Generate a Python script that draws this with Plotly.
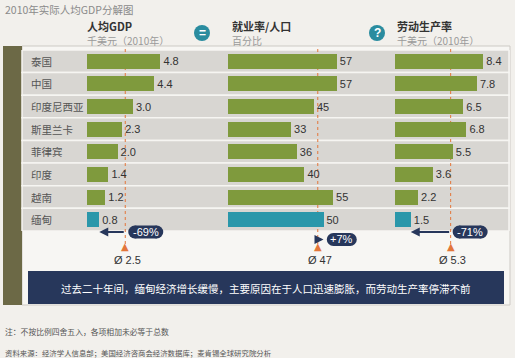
import plotly.graph_objects as go

# ---------------- data ----------------
countries = ["泰国", "中国", "印度尼西亚", "斯里兰卡", "菲律宾", "印度", "越南", "缅甸"]
gdp_per_capita = [4.8, 4.4, 3.0, 2.3, 2.0, 1.4, 1.2, 0.8]        # 千美元（2010年）
employment_ratio = [57, 57, 45, 33, 36, 40, 55, 50]               # 百分比
labor_productivity = [8.4, 7.8, 6.5, 6.8, 5.5, 3.6, 2.2, 1.5]     # 千美元（2010年）
averages = [2.5, 47, 5.3]
myanmar_gap = ["-69%", "+7%", "-71%"]
col_titles = ["人均GDP", "就业率/人口", "劳动生产率"]
col_units = ["千美元（2010年）", "百分比", "千美元（2010年）"]
title = "2010年实际人均GDP分解图"
takeaway = "过去二十年间，缅甸经济增长缓慢，主要原因在于人口迅速膨胀，而劳动生产率停滞不前"
note1 = "注：不按比例四舍五入，各项相加未必等于总数"
note2 = "资料来源：经济学人信息部；美国经济咨商会经济数据库；麦肯锡全球研究院分析"

# ---------------- style ----------------
W, H = 515, 358
FONT = "Noto Sans CJK SC, Noto Sans, sans-serif"
GREEN = "#7f9a3d"
TEAL = "#2a97aa"
NAVY = "#27375b"
ORANGE = "#e3763a"
ROW = "#d8d6d2"

def px(x):
    return x / W

def py(y):
    return 1 - y / H

series = [gdp_per_capita, employment_ratio, labor_productivity]
fmts = ["{:.1f}", "{:d}", "{:.1f}"]
axes = ["x", "x2", "x3"]
# axis pixel domains and pixel-per-unit scales
doms = [(87, 215, 15.3), (228, 385, 1.91), (395, 508, 10.5)]

ys = list(range(len(countries)))
fig = go.Figure()
for vals, fmt, ax in zip(series, fmts, axes):
    colors = [TEAL if c == "缅甸" else GREEN for c in countries]
    fig.add_trace(go.Bar(
        x=vals, y=ys, orientation="h", xaxis=ax, yaxis="y",
        marker=dict(color=colors, line=dict(width=0)), width=0.66,
        text=[fmt.format(v) for v in vals], textposition="outside",
        textfont=dict(size=11, color="#333", family="Arial, Liberation Sans"),
        constraintext="none", cliponaxis=False, hoverinfo="skip", showlegend=False,
    ))

layout_axes = {}
for i, (a, b, s) in enumerate(doms):
    key = "xaxis" if i == 0 else f"xaxis{i+1}"
    layout_axes[key] = dict(domain=[px(a), px(b)], range=[0, (b - a) / s],
                            visible=False, fixedrange=True, anchor="y")

shapes = []
# panel and left bar
shapes.append(dict(type="rect", xref="paper", yref="paper", x0=px(22), x1=px(510), y0=py(305), y1=py(46),
                   fillcolor="#f7f6f3", line=dict(color="#cdcac5", width=1), layer="below"))
shapes.append(dict(type="rect", xref="paper", yref="paper", x0=px(3), x1=px(22), y0=py(305), y1=py(46),
                   fillcolor="#6c6946", line=dict(width=0), layer="below"))
# row bands
for i in ys:
    shapes.append(dict(type="rect", xref="paper", yref="y", x0=px(22), x1=px(509), y0=i - 0.5, y1=i + 0.5,
                       fillcolor=ROW, line=dict(color="#f6f5f2", width=1.5), layer="below"))
# average dotted lines
for avg, ax in zip(averages, axes):
    shapes.append(dict(type="line", xref=ax, yref="paper", x0=avg, x1=avg, y0=py(244), y1=py(47),
                       line=dict(color=ORANGE, width=1, dash="dot"), layer="below"))
# header icons
for cx in (202, 377):
    shapes.append(dict(type="circle", xref="paper", yref="paper", x0=px(cx - 8), x1=px(cx + 8),
                       y0=py(41), y1=py(25), fillcolor="#2a8c9f", line=dict(width=0)))
# takeaway box
shapes.append(dict(type="rect", xref="paper", yref="paper", x0=px(28), x1=px(504), y0=py(304), y1=py(271),
                   fillcolor=NAVY, line=dict(width=0)))
# pills (stadium shapes) anchored at averages
pill_offsets = [(3, 38, 232), (9, 39, 239.5), (2, 37, 232)]
for avg, ax, (o0, o1, cy) in zip(averages, axes, pill_offsets):
    r = 6.5
    shapes.append(dict(type="rect", xref=ax, xsizemode="pixel", xanchor=avg, x0=o0 + r, x1=o1 - r,
                       yref="paper", y0=py(cy + r), y1=py(cy - r), fillcolor=NAVY, line=dict(width=0)))
    for c in (o0 + r, o1 - r):
        shapes.append(dict(type="circle", xref=ax, xsizemode="pixel", xanchor=avg, x0=c - r, x1=c + r,
                           yref="paper", y0=py(cy + r), y1=py(cy - r), fillcolor=NAVY, line=dict(width=0)))

ann = []
ann.append(dict(text=title, xref="paper", yref="paper", x=px(3), y=py(9), xanchor="left", yanchor="middle",
                showarrow=False, font=dict(size=10.5, color="#8a8a8a", family=FONT)))
head_x = [85, 230, 395]
for hx, t, u in zip(head_x, col_titles, col_units):
    ann.append(dict(text=f"<b>{t}</b>", xref="paper", yref="paper", x=px(hx), y=py(26), xanchor="left",
                    yanchor="middle", showarrow=False, font=dict(size=11, color="#333", family=FONT)))
    ann.append(dict(text=u, xref="paper", yref="paper", x=px(hx), y=py(40), xanchor="left",
                    yanchor="middle", showarrow=False, font=dict(size=10, color="#9a9a9a", family=FONT)))
for cx, sym in ((202, "="), (377, "?")):
    ann.append(dict(text=f"<b>{sym}</b>", xref="paper", yref="paper", x=px(cx), y=py(33), xanchor="center",
                    yanchor="middle", showarrow=False, font=dict(size=12, color="white", family="Arial")))
for i, c in enumerate(countries):
    ann.append(dict(text=c, xref="paper", yref="y", x=px(29), y=i, xanchor="left", yanchor="middle",
                    showarrow=False, font=dict(size=10.5, color="#555", family=FONT)))
for avg, ax, gap, my, (o0, o1, cy) in zip(averages, axes, myanmar_gap, [s[-1] for s in series], pill_offsets):
    ann.append(dict(text="▲", xref=ax, yref="paper", x=avg, y=py(246), xanchor="center", yanchor="middle",
                    showarrow=False, font=dict(size=10, color=ORANGE, family="DejaVu Sans")))
    ann.append(dict(text=f"Ø {avg:g}", xref=ax, yref="paper", x=avg, y=py(260), xanchor="center",
                    yanchor="middle", showarrow=False, xshift=2,
                    font=dict(size=11, color="#333", family="Arial, Liberation Sans")))
    ann.append(dict(text="", xref=ax, yref="paper", x=my, y=py(cy), axref=ax, ax=avg, ayref="pixel", ay=0,
                    showarrow=True, arrowhead=2, arrowsize=0.9, arrowwidth=2, arrowcolor=NAVY, standoff=0,
                    startstandoff=0))
    ann.append(dict(text=gap, xref=ax, yref="paper", x=avg, xshift=(o0 + o1) / 2, y=py(cy), xanchor="center",
                    yanchor="middle", showarrow=False,
                    font=dict(size=11, color="white", family="Arial, Liberation Sans")))
ann.append(dict(text=takeaway, xref="paper", yref="paper", x=px(266), y=py(288), xanchor="center",
                yanchor="middle", showarrow=False, font=dict(size=10.5, color="white", family=FONT)))
ann.append(dict(text=note1, xref="paper", yref="paper", x=px(3), y=py(331), xanchor="left", yanchor="middle",
                showarrow=False, font=dict(size=7.8, color="#555", family=FONT)))
ann.append(dict(text=note2, xref="paper", yref="paper", x=px(3), y=py(352), xanchor="left", yanchor="middle",
                showarrow=False, font=dict(size=7.4, color="#555", family=FONT)))

fig.update_layout(
    width=W, height=H, margin=dict(l=0, r=0, t=0, b=0),
    paper_bgcolor="#f2f0ec", plot_bgcolor="rgba(0,0,0,0)",
    yaxis=dict(domain=[py(231), py(50)], range=[len(countries) - 0.5, -0.5], visible=False, fixedrange=True),
    shapes=shapes, annotations=ann, bargap=0, showlegend=False,
    font=dict(family=FONT),
    **layout_axes,
)
fig.write_html("out.html", config={"displayModeBar": False, "staticPlot": True},
               post_script="document.body.style.margin='0';document.body.style.overflow='hidden';")
